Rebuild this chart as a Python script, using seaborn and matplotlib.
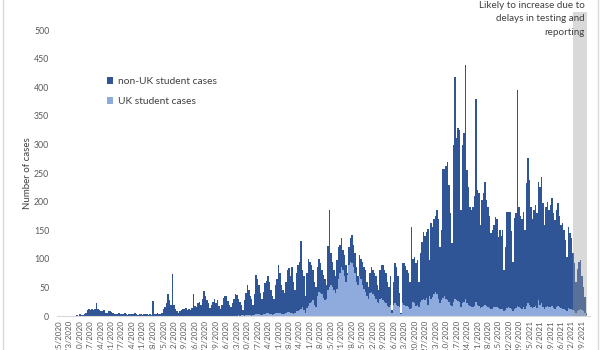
import numpy as np
import pandas as pd
import matplotlib
matplotlib.use("Agg")
import matplotlib.pyplot as plt
import seaborn as sns
from matplotlib.patches import Patch
from matplotlib.lines import Line2D

# Daily cases, one row per week (weeks start Tuesday 2/25/2020)
non_uk_cases = [
    0, 0, 0, 0, 0, 0, 0,
    0, 0, 0, 0, 0, 2, 0,
    3, 1, 2, 4, 6, 10, 12,
    11, 12, 10, 13, 23, 12, 11,
    9, 8, 10, 6, 5, 8, 9,
    7, 6, 4, 3, 4, 5, 3,
    4, 3, 5, 4, 2, 3, 4,
    3, 4, 5, 4, 2, 3, 4,
    2, 3, 4, 3, 2, 3, 2,
    27, 4, 3, 5, 3, 4, 6,
    12, 16, 22, 38, 28, 20, 73,
    20, 12, 8, 6, 9, 10, 12,
    12, 14, 10, 13, 11, 14, 38,
    18, 15, 22, 25, 20, 30, 44,
    35, 28, 22, 14, 20, 25, 30,
    22, 28, 18, 12, 20, 32, 35,
    35, 26, 20, 15, 22, 30, 38,
    37, 29, 25, 19, 8, 28, 39,
    53, 43, 34, 30, 19, 36, 69,
    61, 52, 38, 29, 39, 54, 57,
    65, 56, 42, 33, 27, 50, 59,
    83, 70, 51, 42, 36, 54, 73,
    77, 64, 81, 56, 40, 67, 80,
    85, 119, 64, 60, 29, 61, 82,
    73, 65, 52, 40, 35, 50, 58,
    52, 42, 40, 37, 25, 77, 135,
    55, 45, 35, 30, 50, 55, 50,
    51, 35, 37, 30, 3, 30, 41,
    50, 40, 35, 25, 15, 37, 35,
    40, 38, 38, 25, 20, 35, 43,
    42, 40, 40, 30, 23, 50, 57,
    61, 55, 53, 42, 35, 50, 5,
    40, 70, 65, 52, 25, 2, 70,
    72, 70, 63, 60, 48, 141, 75,
    82, 74, 78, 45, 85, 102, 117,
    112, 115, 133, 63, 132, 121, 132,
    133, 147, 140, 99, 122, 226, 223,
    232, 242, 205, 160, 109, 275, 388,
    283, 303, 302, 170, 278, 295, 409,
    233, 206, 172, 169, 176, 192, 355,
    200, 197, 146, 187, 197, 215, 185,
    174, 161, 133, 137, 145, 158, 155,
    125, 137, 128, 138, 72, 110, 168,
    167, 168, 137, 87, 158, 166, 377,
    175, 161, 157, 167, 138, 214, 254,
    218, 176, 156, 169, 176, 166, 207,
    205, 222, 181, 148, 175, 182, 169,
    180, 188, 166, 156, 169, 180, 160,
    146, 149, 138, 123, 96, 142, 133,
    124, 100, 83, 54, 75, 85, 86,
    60, 43, 28, 3,
]

uk_cases = [
    0, 0, 0, 0, 0, 0, 0,
    0, 0, 0, 0, 0, 0, 0,
    0, 0, 0, 0, 0, 0, 0,
    0, 0, 0, 0, 0, 0, 0,
    0, 0, 0, 0, 0, 0, 0,
    0, 0, 0, 0, 0, 0, 0,
    0, 0, 0, 0, 0, 0, 0,
    0, 0, 0, 0, 0, 0, 0,
    0, 0, 0, 0, 0, 0, 0,
    0, 0, 0, 0, 0, 0, 0,
    0, 0, 0, 0, 0, 0, 0,
    0, 0, 0, 0, 0, 0, 0,
    0, 0, 0, 0, 0, 0, 0,
    0, 0, 0, 0, 0, 0, 0,
    0, 0, 0, 0, 0, 0, 0,
    0, 0, 0, 0, 0, 0, 0,
    0, 0, 0, 0, 0, 0, 0,
    0, 1, 0, 1, 2, 0, 1,
    1, 2, 1, 0, 1, 2, 3,
    4, 3, 2, 1, 3, 4, 5,
    5, 4, 3, 2, 3, 5, 6,
    6, 5, 4, 3, 4, 6, 7,
    7, 6, 5, 4, 5, 8, 9,
    10, 12, 16, 10, 6, 14, 18,
    22, 25, 28, 20, 15, 35, 42,
    40, 38, 32, 28, 30, 45, 50,
    55, 50, 45, 40, 48, 65, 75,
    85, 80, 70, 60, 72, 90, 95,
    92, 85, 75, 60, 55, 70, 65,
    55, 48, 42, 35, 30, 40, 42,
    38, 35, 30, 25, 22, 30, 32,
    28, 25, 22, 18, 15, 20, 5,
    20, 22, 20, 18, 15, 3, 22,
    20, 18, 17, 15, 12, 14, 25,
    22, 18, 20, 15, 25, 28, 30,
    28, 32, 20, 35, 30, 34, 38,
    42, 38, 30, 22, 28, 32, 35,
    30, 28, 25, 20, 18, 25, 30,
    28, 26, 24, 15, 22, 25, 30,
    22, 20, 18, 16, 15, 18, 25,
    20, 18, 14, 16, 18, 20, 18,
    16, 14, 12, 13, 15, 16, 15,
    14, 13, 12, 12, 8, 10, 14,
    15, 14, 12, 8, 13, 14, 18,
    16, 14, 13, 15, 12, 18, 22,
    20, 15, 14, 16, 18, 14, 28,
    20, 22, 16, 12, 15, 18, 16,
    15, 18, 14, 12, 16, 17, 15,
    14, 13, 12, 10, 8, 14, 12,
    12, 10, 9, 6, 8, 10, 12,
    10, 8, 6, 2,
]

week_labels = [
    "2/25/2020", "3/3/2020", "3/10/2020", "3/17/2020", "3/24/2020", "3/31/2020",
    "4/7/2020", "4/14/2020", "4/21/2020", "4/28/2020", "5/5/2020", "5/12/2020",
    "5/19/2020", "5/26/2020", "6/2/2020", "6/9/2020", "6/16/2020", "6/23/2020",
    "6/30/2020", "7/7/2020", "7/14/2020", "7/21/2020", "7/28/2020", "8/4/2020",
    "8/11/2020", "8/18/2020", "8/25/2020", "9/1/2020", "9/8/2020", "9/15/2020",
    "9/22/2020", "9/29/2020", "10/6/2020", "10/13/2020", "10/20/2020", "10/27/2020",
    "11/3/2020", "11/10/2020", "11/17/2020", "11/24/2020", "12/1/2020", "12/8/2020",
    "12/15/2020", "12/22/2020", "12/29/2020", "1/5/2021", "1/12/2021", "1/19/2021",
    "1/26/2021", "2/2/2021", "2/9/2021",
]

series_names = ["non-UK student cases", "UK student cases"]
note_text = "Likely to increase due to\ndelays in testing and\nreporting"

DARK = "#2F5597"
LIGHT = "#8FAADC"
GREY_TXT = "#595959"

sns.set_theme(style="white")
plt.rcParams["font.family"] = ["Lato", "DejaVu Sans"]

n = len(non_uk_cases)
df = pd.DataFrame({"day": np.arange(n), "uk": uk_cases, "non_uk": non_uk_cases})
df["stack_top"] = df["uk"] + df["non_uk"]

fig = plt.figure(figsize=(6, 3.5), dpi=100)
ax = fig.add_axes([57 / 600, 1 - 316 / 350, 533 / 600, 304 / 350])

sns.barplot(data=df, x="day", y="stack_top", color=DARK, saturation=1, width=1.0,
            linewidth=0, errorbar=None, orient="v", ax=ax)
sns.barplot(data=df, x="day", y="uk", color=LIGHT, saturation=1, width=1.0,
            linewidth=0, errorbar=None, orient="v", ax=ax)

ax.set_xlim(-1.35, 355.4)
ax.set_ylim(0, 532)

ax.set_yticks(range(0, 501, 50))
ax.tick_params(axis="y", length=0, pad=5.5, labelsize=6.3, labelcolor=GREY_TXT)
ax.set_xticks(range(0, 7 * len(week_labels), 7))
ax.set_xticklabels(week_labels, rotation=90)
ax.tick_params(axis="x", length=0, pad=3, labelsize=5.8, labelcolor=GREY_TXT)

for s in ["top", "left", "right"]:
    ax.spines[s].set_visible(False)
ax.spines["bottom"].set_color("#d9d9d9")
ax.spines["bottom"].set_linewidth(0.8)

ax.set_xlabel("")
ax.set_ylabel("Number of cases", fontsize=7, color="#404040")
ax.yaxis.set_label_coords(-0.046, 0.47)

ax.axvspan(343.8, 353.6, ymin=0, ymax=1, color="#9d9d9d", alpha=0.39, lw=0, zorder=5)

handles = [Patch(facecolor=DARK, edgecolor="none", label=series_names[0]),
           Patch(facecolor=LIGHT, edgecolor="none", label=series_names[1])]
leg = fig.legend(handles=handles, loc="upper left", bbox_to_anchor=(107 / 600, 1 - 77 / 350),
                 frameon=False, fontsize=7.4, handlelength=0.6, handleheight=0.6,
                 handletextpad=0.5, labelspacing=1.1, borderpad=0, borderaxespad=0)
for t in leg.get_texts():
    t.set_color("#404040")

fig.text(585 / 600, 1 - 0.5 / 350, note_text, ha="right", va="top", fontsize=7.1,
         color="#404040", linespacing=1.7)

for xp in (2.5, 597.5):
    fig.add_artist(Line2D([xp / 600, xp / 600], [0, 1], color="#d9d9d9", lw=1))

fig.savefig("out.png", dpi=100)
